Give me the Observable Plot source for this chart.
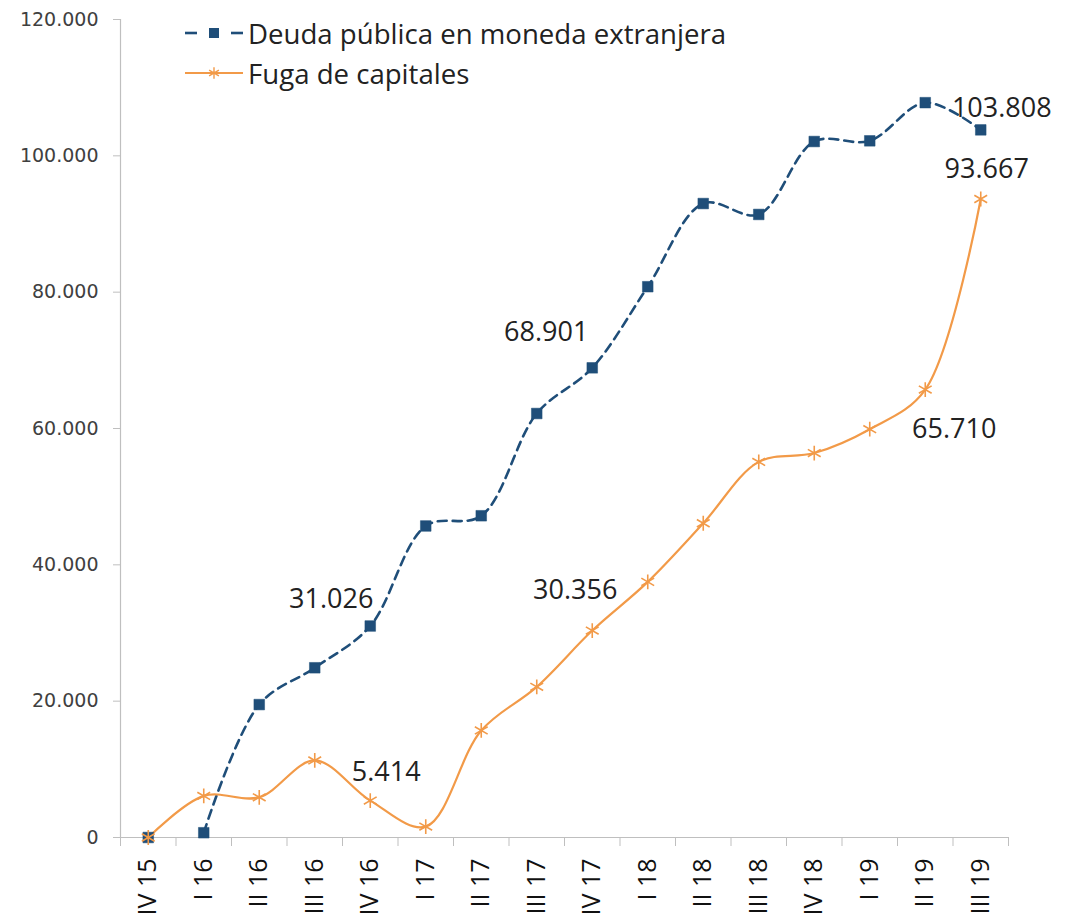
<!DOCTYPE html>
<html>
<head>
<meta charset="utf-8">
<script src="https://cdn.jsdelivr.net/npm/d3@7"></script>
<script src="https://cdn.jsdelivr.net/npm/@observablehq/plot@0.6"></script>
<style>
  html, body { margin: 0; padding: 0; background: #fff; }
  #wrap { position: relative; width: 1070px; height: 921px; overflow: hidden; }
  #legend { position: absolute; left: 185px; top: 13px; font-family: "Open Sans", sans-serif; font-size: 27.6px; color: #222; }
  .row { display: flex; align-items: center; height: 40px; }
  .row svg { margin-right: 5px; }
</style>
</head>
<body>
<div id="wrap">
  <div id="chart"></div>
  <div id="legend"></div>
</div>
<script>
const categories = ["IV 15","I 16","II 16","III 16","IV 16","I 17","II 17","III 17","IV 17","I 18","II 18","III 18","IV 18","I 19","II 19","III 19"];
const deuda = [0, 700, 19500, 24900, 31026, 45700, 47200, 62200, 68901, 80800, 93000, 91400, 102100, 102200, 107800, 103808];
const fuga = [0, 6100, 5900, 11300, 5414, 1600, 15700, 22100, 30356, 37500, 46100, 55100, 56400, 59900, 65710, 93667];
const yTicks = [0, 20000, 40000, 60000, 80000, 100000, 120000];
const seriesNames = ["Deuda pública en moneda extranjera", "Fuga de capitales"];
// labelled points (category index)
const labelsDeuda = [4, 8, 15];
const labelsFuga = [4, 8, 14, 15];

const blue = "#1F4E79";
const orange = "#F29A48";
const grid = "#BFBFBF";

const fmt = d3.formatLocale({thousands: ".", decimal: ",", grouping: [3], currency: ["", ""]}).format(",d");

const dDeuda = deuda.map((v, i) => ({i, v, cat: categories[i]}));
const dFuga = fuga.map((v, i) => ({i, v, cat: categories[i]}));
const xDomain = [-0.5, categories.length - 0.5];
const boundaries = d3.range(categories.length + 1).map(k => k - 0.5);

const labelFont = {fontSize: 27, fontFamily: "Open Sans, sans-serif", fill: "#222"};

function lab(data, idx, dx, dy) {
  return Plot.text(data.filter(d => d.i === idx), {x: "i", y: "v", text: d => fmt(d.v), dx, dy, ...labelFont});
}

const plot = Plot.plot({
  width: 1070,
  height: 921,
  marginLeft: 120,
  marginRight: 62,
  marginTop: 19,
  marginBottom: 84,
  style: {background: "#fff", overflow: "visible"},
  x: {type: "linear", domain: xDomain, axis: null, label: null},
  y: {domain: [0, 120000], axis: null, label: null},
  marks: [
    Plot.ruleX([xDomain[0]], {y1: 0, y2: 120000, stroke: grid, strokeWidth: 1.2}),
    Plot.ruleY([0], {stroke: grid, strokeWidth: 1.2}),
    Plot.axisY({ticks: yTicks, label: null, tickSize: 7, tickPadding: 15, tickFormat: fmt, stroke: grid, color: "#404040", fontSize: 19, fontFamily: "DejaVu Sans, sans-serif"}),
    Plot.axisX({ticks: boundaries, label: null, tickSize: 9, tickFormat: () => "", stroke: grid}),
    Plot.axisX({ticks: d3.range(categories.length), label: null, tickSize: 0, tickPadding: 21, tickRotate: -90, tickFormat: i => categories[i], fontSize: 25, fontFamily: "Open Sans, sans-serif", color: "#111"}),
    Plot.line(dDeuda.filter(d => d.i >= 1), {x: "i", y: "v", stroke: blue, strokeWidth: 2.6, strokeDasharray: "9,6", curve: "catmull-rom"}),
    Plot.line(dFuga, {x: "i", y: "v", stroke: orange, strokeWidth: 2.2, curve: "catmull-rom"}),
    Plot.dot(dDeuda, {x: "i", y: "v", symbol: "square", r: 6, fill: blue, stroke: blue, strokeWidth: 0.5}),
    Plot.dot(dFuga, {x: "i", y: "v", symbol: "asterisk", r: 7, stroke: orange, strokeWidth: 1.6}),
    lab(dDeuda, labelsDeuda[0], -39, -27),
    lab(dDeuda, labelsDeuda[1], -46, -35),
    lab(dDeuda, labelsDeuda[2], 21, -22),
    lab(dFuga, labelsFuga[0], 16, -28),
    lab(dFuga, labelsFuga[1], -17, -40),
    lab(dFuga, labelsFuga[2], 29, 40),
    lab(dFuga, labelsFuga[3], 6, -30)
  ]
});
document.getElementById("chart").appendChild(plot);

// Legend
const legend = d3.select("#legend");
const r1 = legend.append("div").attr("class", "row");
const s1 = r1.append("svg").attr("width", 58).attr("height", 20);
s1.append("line").attr("x1", 0).attr("x2", 12).attr("y1", 10).attr("y2", 10).attr("stroke", blue).attr("stroke-width", 2.6);
s1.append("rect").attr("x", 24).attr("y", 5).attr("width", 10).attr("height", 10).attr("fill", blue);
s1.append("line").attr("x1", 46).attr("x2", 58).attr("y1", 10).attr("y2", 10).attr("stroke", blue).attr("stroke-width", 2.6);
r1.append("span").text(seriesNames[0]);
const r2 = legend.append("div").attr("class", "row");
const s2 = r2.append("svg").attr("width", 58).attr("height", 20);
s2.append("line").attr("x1", 0).attr("x2", 58).attr("y1", 10).attr("y2", 10).attr("stroke", orange).attr("stroke-width", 2.2);
s2.append("path").attr("transform", "translate(29,10)").attr("d", d3.symbol(d3.symbolAsterisk, 90)()).attr("stroke", orange).attr("stroke-width", 1.4).attr("fill", "none");
r2.append("span").text(seriesNames[1]);
</script>
</body>
</html>
